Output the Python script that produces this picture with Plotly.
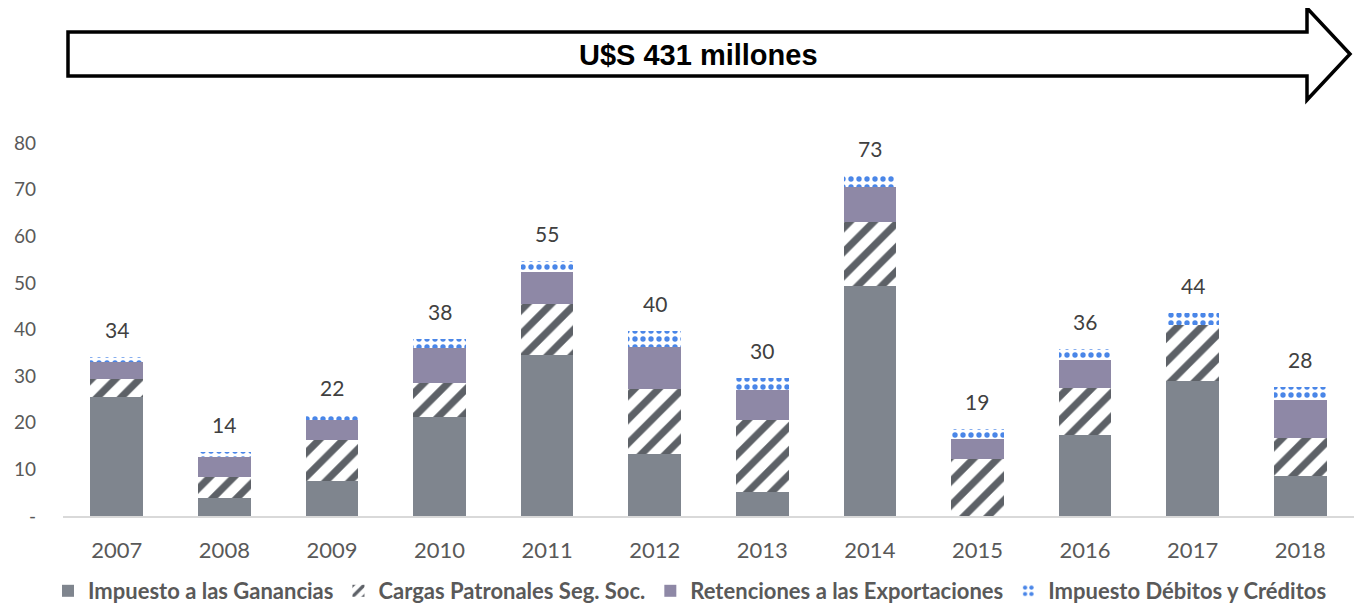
import plotly.graph_objects as go

# Data (US$ millones)
years = ["2007", "2008", "2009", "2010", "2011", "2012",
         "2013", "2014", "2015", "2016", "2017", "2018"]
ganancias = [25.5, 3.9, 7.5, 21.2, 34.5, 13.2, 5.1, 49.4, 0.0, 17.4, 29.0, 8.6]
cargas = [3.8, 4.5, 8.8, 7.3, 11.0, 14.0, 15.5, 13.7, 12.2, 10.1, 12.0, 8.1]
retenciones = [3.7, 4.3, 4.3, 7.5, 6.9, 9.1, 6.4, 7.4, 4.3, 6.0, 0.0, 8.1]
debitos = [1.0, 1.0, 1.0, 2.0, 2.2, 3.3, 2.6, 2.4, 2.2, 2.3, 2.6, 2.8]
y_ticks = [0, 10, 20, 30, 40, 50, 60, 70, 80]
y_tick_labels = ["-", "10", "20", "30", "40", "50", "60", "70", "80"]
banner_text = "U$S 431 millones"

totals = [a + b + c + d for a, b, c, d in zip(ganancias, cargas, retenciones, debitos)]

# Theme
COLOR_GAN = "#7f858e"
COLOR_STRIPE = "#5d6167"
COLOR_RET = "#8e88a6"
COLOR_DOTS = "#4a86e8"
COLOR_TEXT = "#404040"
COLOR_TICK = "#595959"
FONT = "Lato"

# figure sits at (8, 8) in the page because of the default body margin
OFF = 8
W, H = 1352, 599
L, R, T, B = 63 - OFF, 6, 143 - OFF, 607 - 516


def px_x(x):
    # page pixel -> paper x
    return (x - OFF - L) / (W - L - R)


def px_y(y):
    # page pixel -> paper y
    return (H - B - (y - OFF)) / (H - T - B)


fig = go.Figure()
fig.add_trace(go.Bar(
    x=years, y=ganancias, name="Impuesto a las Ganancias",
    marker=dict(color=COLOR_GAN, line=dict(width=0)),
))
fig.add_trace(go.Bar(
    x=years, y=cargas, name="Cargas Patronales Seg. Soc.",
    marker=dict(color="white", line=dict(width=0),
                pattern=dict(shape="/", fgcolor=COLOR_STRIPE, bgcolor="white",
                             fgopacity=1, size=17, solidity=0.42)),
))
fig.add_trace(go.Bar(
    x=years, y=retenciones, name="Retenciones a las Exportaciones",
    marker=dict(color=COLOR_RET, line=dict(width=0)),
))
fig.add_trace(go.Bar(
    x=years, y=debitos, name="Impuesto Débitos y Créditos",
    marker=dict(color="white", line=dict(width=0),
                pattern=dict(shape=".", fgcolor=COLOR_DOTS, bgcolor="white",
                             fgopacity=1, size=8, solidity=0.35)),
))

# total labels above each bar (category index as x)
for i, tot in enumerate(totals):
    fig.add_annotation(x=i, y=tot, text=f"{tot:.0f}", showarrow=False,
                       yanchor="bottom", yshift=13,
                       font=dict(family=FONT, size=21, color=COLOR_TEXT))

# banner arrow
arrow = [(68, 32), (1307, 32), (1307, 8), (1350, 54), (1307, 100), (1307, 76), (68, 76)]
path = "M " + " L ".join(f"{px_x(x):.5f},{px_y(y):.5f}" for x, y in arrow) + " Z"
fig.add_shape(type="path", path=path, xref="paper", yref="paper",
              line=dict(color="black", width=3.5), fillcolor="white", layer="above")
fig.add_annotation(x=px_x(698), y=px_y(55), xref="paper", yref="paper",
                   xanchor="center", yanchor="middle",
                   text=f"<b>{banner_text}</b>", showarrow=False,
                   font=dict(family="Liberation Sans", size=29, color="black"))

fig.update_layout(
    barmode="stack",
    bargap=0.51,
    width=W, height=H,
    paper_bgcolor="white",
    plot_bgcolor="white",
    font=dict(family=FONT, color=COLOR_TICK),
    margin=dict(l=L, r=R, t=T, b=B, autoexpand=False),
    showlegend=True,
    legend=dict(
        orientation="h", x=px_x(690), xanchor="center",
        y=px_y(591), yanchor="middle",
        font=dict(family=FONT, size=22, color=COLOR_TICK, weight="bold"),
        traceorder="normal", itemwidth=30, bgcolor="rgba(0,0,0,0)",
    ),
)
fig.update_xaxes(
    type="category", range=[-0.5, len(years) - 0.5],
    showgrid=False, showline=True, linecolor="#d9d9d9", linewidth=2,
    tickfont=dict(family=FONT, size=22, color=COLOR_TICK), ticks="",
    ticklabelstandoff=14,
)
fig.update_yaxes(
    range=[0, 80], tickvals=y_ticks, ticktext=y_tick_labels,
    showgrid=False, zeroline=False, showline=False, ticks="",
    tickfont=dict(family=FONT, size=19, color=COLOR_TICK),
    ticklabelstandoff=26,
)

fig.write_html("out.html")
